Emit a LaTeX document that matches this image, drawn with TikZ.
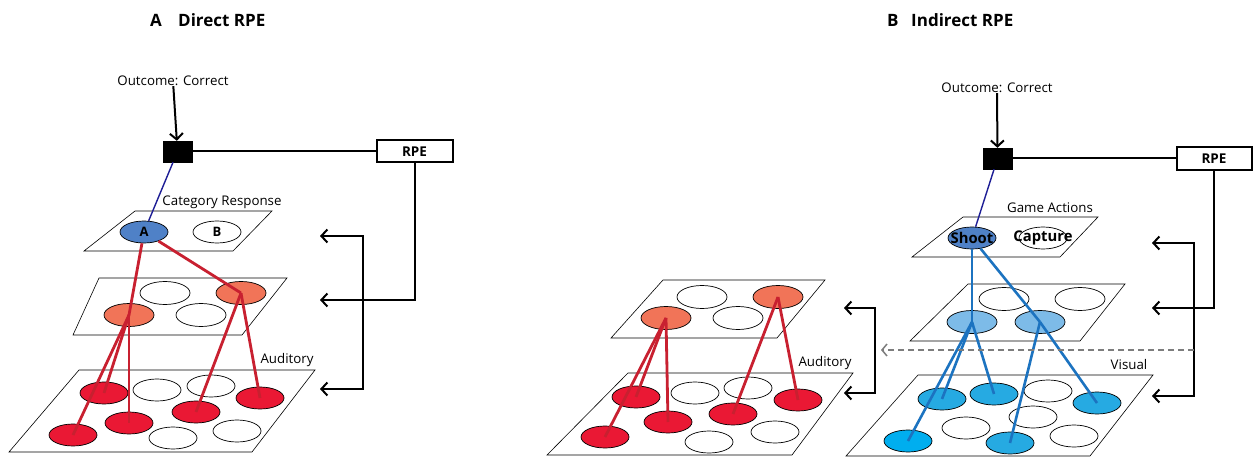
\documentclass[tikz,border=0pt]{standalone}
\usepackage{fontspec}
\setmainfont{Open Sans}
\usetikzlibrary{shapes.geometric,arrows.meta}
\definecolor{nodeblue}{RGB}{79,129,199}
\definecolor{orangec}{RGB}{241,116,88}
\definecolor{redc}{RGB}{234,24,52}
\definecolor{redline}{RGB}{200,32,48}
\definecolor{lightb}{RGB}{125,187,232}
\definecolor{visb}{RGB}{38,170,226}
\definecolor{visb2}{RGB}{0,174,239}
\definecolor{blueline}{RGB}{28,115,192}
\definecolor{navy}{RGB}{30,30,150}
\definecolor{dashg}{RGB}{125,125,125}
\tikzset{
  ell/.style={ellipse, draw=black, line width=0.7pt, minimum width=48pt, minimum height=22pt, inner sep=0pt, fill=white},
  ellm/.style={ell, minimum width=50pt, minimum height=23pt},
  plane/.style={draw=black, line width=0.6pt, fill=white},
  lab/.style={font=\fontsize{13.3}{15}\selectfont, inner sep=0pt},
  ttl/.style={font=\fontsize{17}{19}\selectfont\bfseries, inner sep=0pt, anchor=west},
  sqbox/.style={fill=black, draw=black, minimum width=29pt, minimum height=21pt, inner sep=0pt},
  rpebox/.style={draw=black, line width=2pt, fill=white, minimum width=76pt, minimum height=22pt, inner sep=0pt, font=\fontsize{13.5}{15}\selectfont\bfseries},
  conn/.style={draw=black, line width=2pt},
  barb/.style={-{Straight Barb[length=6pt,width=13pt,line width=2pt]}},
  bbarb/.style={{Straight Barb[length=6pt,width=13pt,line width=2pt]}-{Straight Barb[length=6pt,width=13pt,line width=2pt]}},
  rl/.style={draw=redline, line width=2.8pt},
  bl/.style={draw=blueline, line width=2.6pt},
  nl/.style={draw=navy, line width=1.4pt},
  nodelab/.style={font=\fontsize{13}{15}\selectfont\bfseries},
  bignodelab/.style={font=\fontsize{14.8}{16}\selectfont\bfseries},
}
\begin{document}
\begin{tikzpicture}[x=1pt,y=-1pt]
\useasboundingbox[fill=white] (0,0) rectangle (1255,457);

% ===================== Panel A =====================
\node[ttl] (tA) at (150,20) {A};
\node[ttl] (tA2) at (178,20) {Direct RPE};
\node[lab] (outA) at (173,81) {Outcome: Correct};
\node[sqbox] (sqA) at (177.5,151.5) {};
\node[rpebox] (rpeA) at (414.5,151.5) {RPE};
\draw[conn] (sqA) -- (rpeA);
\draw[conn,barb] (outA) -- (sqA);

% top plane
\draw[plane] (135,211) -- (272,211) -- (233,251) -- (84,251) -- cycle;
\node[lab] (catA) at (222,202) {Category Response};
\node[ell, fill=nodeblue, nodelab] (nA) at (144,232) {A};
\node[ell, nodelab] (nB) at (217,232) {B};

% middle plane
\draw[plane] (99,278) -- (287,278) -- (242,335) -- (73,335) -- cycle;
\node[ellm] (am1) at (165,293) {};
\node[ellm, fill=orangec] (amO2) at (241,293) {};
\node[ellm, fill=orangec] (amO1) at (129,315) {};
\node[ellm] (am4) at (201,315) {};

% bottom plane
\draw[plane] (79,370) -- (315,370) -- (252,452) -- (9,452) -- cycle;
\node[lab] (audA) at (287,360) {Auditory};
\node[ell, fill=redc] (ar1) at (104,393) {};
\node[ell] (aw1) at (157,390) {};
\node[ell] (aw2) at (211,386) {};
\node[ell, fill=redc] (ar2) at (260,398) {};
\node[ell, fill=redc] (ar3) at (129,423) {};
\node[ell, fill=redc] (ar4) at (196,412) {};
\node[ell, fill=redc] (ar5) at (73,435) {};
\node[ell] (aw3) at (173,438) {};
\node[ell] (aw4) at (237,431) {};

% connections
\draw[nl] (sqA) -- (nA);
\draw[rl] (nA) -- (amO1.center);
\draw[rl] (nA) -- (amO2.center);
\draw[rl] (amO1.center) -- (ar1.center);
\draw[rl] (amO1.center) -- (ar5.center);
\draw[rl] (amO1.center) -- (ar3.center);
\draw[rl] (amO2.center) -- (ar4.center);
\draw[rl] (amO2.center) -- (ar2.center);

% feedback arrows A
\coordinate (aT1) at (320,236);
\coordinate (aT2) at (320,300);
\coordinate (aT3) at (320,389);
\coordinate (aB1) at (363,236);
\coordinate (aB3) at (363,389);
\draw[conn,barb] (rpeA) |- (aT2);
\draw[conn,bbarb] (aT1) -- (aB1) -- (aB3) -- (aT3);

% ===================== Panel B =====================
\node[ttl] (tB) at (887,20) {B};
\node[ttl] (tB2) at (911,20) {Indirect RPE};
\node[lab] (outB) at (997,88) {Outcome: Correct};
\node[sqbox] (sqB) at (997.5,158.5) {};
\node[rpebox, minimum width=75pt, minimum height=23pt] (rpeB) at (1214,158.5) {RPE};
\draw[conn] (sqB) -- (rpeB);
\draw[conn,barb] (outB) -- (sqB);

% left stack (auditory)
\draw[plane] (663,280) -- (825,280) -- (777,338) -- (611,338) -- cycle;
\node[ellm] (lm1) at (702,297) {};
\node[ellm, fill=orangec] (lmO2) at (778,297) {};
\node[ellm, fill=orangec] (lmO1) at (666,318) {};
\node[ellm] (lm4) at (738,318) {};

\draw[plane] (628,373) -- (853,373) -- (792,455) -- (547,455) -- cycle;
\node[lab] (audB) at (825,363) {Auditory};
\node[ell, fill=redc] (lr1) at (636,397) {};
\node[ell] (lw1) at (695,393) {};
\node[ell] (lw2) at (748,388) {};
\node[ell, fill=redc] (lr2) at (798,400) {};
\node[ell, fill=redc] (lr3) at (668,422) {};
\node[ell, fill=redc] (lr4) at (733,414) {};
\node[ell, fill=redc] (lr5) at (605,437) {};
\node[ell] (lw3) at (709,442) {};
\node[ell] (lw4) at (775,432) {};

\draw[rl] (lmO1.center) -- (lr1.center);
\draw[rl] (lmO1.center) -- (lr5.center);
\draw[rl] (lmO1.center) -- (lr3.center);
\draw[rl] (lmO2.center) -- (lr4.center);
\draw[rl] (lmO2.center) -- (lr2.center);

% right stack (visual)
\draw[plane] (963,217) -- (1098,217) -- (1060,257) -- (912,257) -- cycle;
\node[lab] (gameB) at (1050,208) {Game Actions};
\node[ell, fill=nodeblue, bignodelab] (shoot) at (972,238) {\makebox[0pt]{Shoot}};
\node[ell, bignodelab] (capture) at (1043,238) {\makebox[0pt]{Capture}};

\draw[plane] (968,284) -- (1125,284) -- (1080,341) -- (910,341) -- cycle;
\node[ellm] (vm1) at (1004,299) {};
\node[ellm] (vm2) at (1080,299) {};
\node[ellm, fill=lightb] (vL1) at (972,322) {};
\node[ellm, fill=lightb] (vL2) at (1040,322) {};

\draw[plane] (918,375) -- (1153,375) -- (1090,456) -- (846,456) -- cycle;
\node[lab] (visB) at (1129,365) {Visual};
\node[ell, fill=visb] (vb1) at (942,399) {};
\node[ell, fill=visb] (vb2) at (994,394) {};
\node[ell] (vw1) at (1048,391) {};
\node[ell, fill=visb] (vb3) at (1097,403) {};
\node[ell] (vw2) at (966,428) {};
\node[ell] (vw3) at (1033,417) {};
\node[ell] (vw4) at (1074,436) {};
\node[ell, fill=visb2] (vb4) at (908,441) {};
\node[ell, fill=visb] (vb5) at (1010,443) {};

\draw[nl] (sqB) -- (shoot);
\draw[bl] (shoot) -- (vL1.center);
\draw[bl] (shoot) -- (vL2.center);
\draw[bl] (vL1.center) -- (vb1.center);
\draw[bl] (vL1.center) -- (vb4.center);
\draw[bl] (vL1.center) -- (vb2.center);
\draw[bl] (vL2.center) -- (vb5.center);
\draw[bl] (vL2.center) -- (vb3.center);

% feedback arrows B
\coordinate (bT1) at (1152,243);
\coordinate (bT2) at (1152,308);
\coordinate (bT3) at (1152,396);
\coordinate (bB1) at (1194,243);
\coordinate (bB3) at (1194,396);
\coordinate (bD1) at (1194,350);
\coordinate (bD2) at (881,350);
\draw[conn,barb] (rpeB) |- (bT2);
\draw[conn,bbarb] (bT1) -- (bB1) -- (bB3) -- (bT3);
\draw[draw=dashg, line width=1.5pt, dash pattern=on 6pt off 4pt, -{Straight Barb[length=5pt,width=12pt,line width=1.5pt]}] (bD1) -- (bD2);

\coordinate (lT1) at (844,308);
\coordinate (lT3) at (844,393);
\coordinate (lB1) at (875,308);
\coordinate (lB3) at (875,393);
\draw[conn,bbarb] (lT1) -- (lB1) -- (lB3) -- (lT3);
\end{tikzpicture}
\end{document}
